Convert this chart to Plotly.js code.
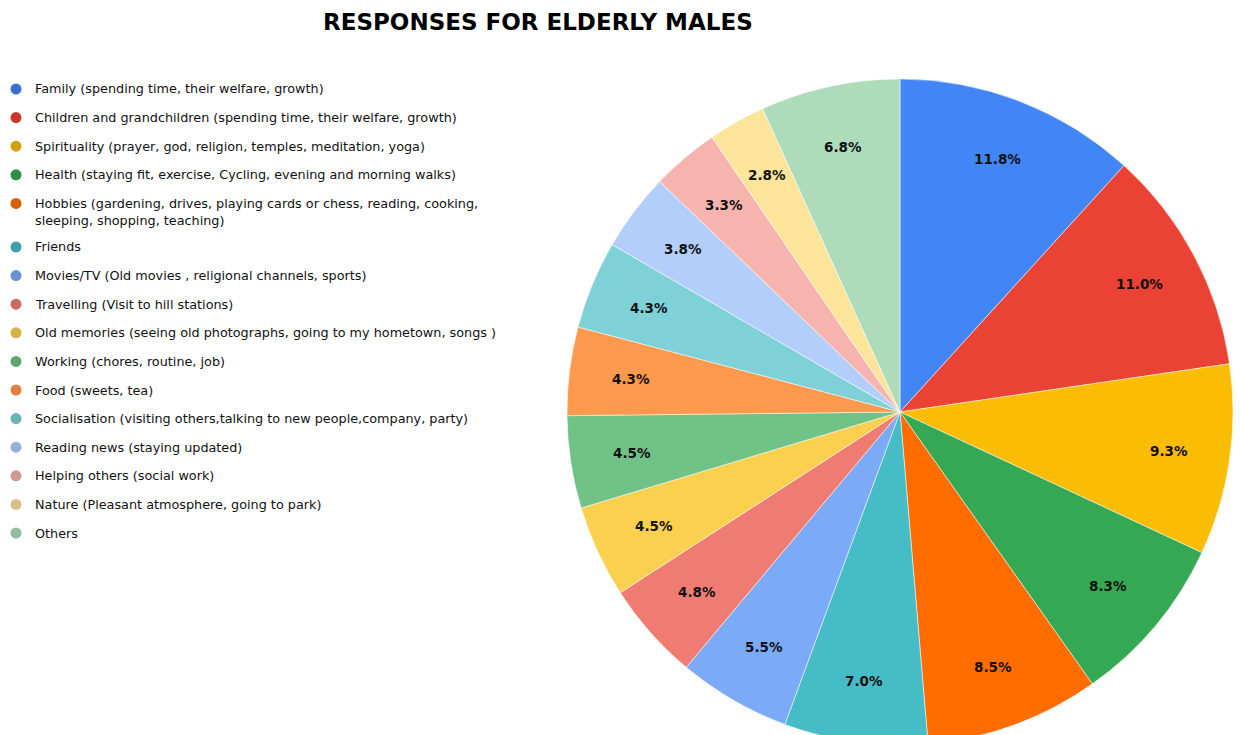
<!DOCTYPE html>
<html><head><meta charset="utf-8">
<script src="https://cdn.plot.ly/plotly-3.0.1.min.js"></script>
<style>html,body{margin:0;padding:0;overflow:hidden;background:#fff;width:1240px;height:735px}</style>
</head><body><div id="chart"></div>
<script>
const categories = [
  "Family (spending time, their welfare, growth)",
  "Children and grandchildren (spending time, their welfare, growth)",
  "Spirituality (prayer, god, religion, temples, meditation, yoga)",
  "Health (staying fit, exercise, Cycling, evening and morning walks)",
  "Hobbies (gardening, drives, playing cards or chess, reading, cooking,<br>sleeping, shopping, teaching)",
  "Friends",
  "Movies/TV (Old movies , religional channels, sports)",
  "Travelling (Visit to hill stations)",
  "Old memories (seeing old photographs, going to my hometown, songs )",
  "Working (chores, routine, job)",
  "Food (sweets, tea)",
  "Socialisation (visiting others,talking to new people,company, party)",
  "Reading news (staying updated)",
  "Helping others (social work)",
  "Nature (Pleasant atmosphere, going to park)",
  "Others"
];
const percentages = [11.8, 11.0, 9.3, 8.3, 8.5, 7.0, 5.5, 4.8, 4.5, 4.5, 4.3, 4.3, 3.8, 3.3, 2.8, 6.8];
const sliceColors = ["#4285F4","#EA4335","#FBBC04","#34A853","#FF6D01","#46BDC6","#7BAAF7","#F07B72",
                     "#FCD04F","#71C287","#FF994D","#7ED1D7","#B3CEFB","#F7B4AE","#FDE49B","#AEDCBA"];

const W = 1240, H = 760;
function darken(hex, f){
  const n = parseInt(hex.slice(1),16);
  const r=Math.round(((n>>16)&255)*f), g=Math.round(((n>>8)&255)*f), b=Math.round((n&255)*f);
  return `rgb(${r},${g},${b})`;
}
// pie geometry in pixels
const cx = 900, cy = 412, R = 333;
const trace = {
  type: 'pie',
  labels: categories,
  values: percentages,
  sort: false,
  direction: 'clockwise',
  rotation: 0,
  marker: {colors: sliceColors, line: {color: 'rgba(255,255,255,0.5)', width: 1}},
  textinfo: 'none',
  hoverinfo: 'label+value',
  showlegend: false,
  domain: {x: [(cx-R)/W, (cx+R)/W], y: [1-(cy+R)/H, 1-(cy-R)/H]}
};

const annotations = [{
  text: '<b>RESPONSES FOR ELDERLY MALES</b>', xref: 'paper', yref: 'paper',
  x: 538/W, y: 1-22/H, xanchor: 'center', yanchor: 'middle', showarrow: false,
  font: {family: 'DejaVu Sans, sans-serif', size: 23, color: '#000'}
}];
// slice percentage labels placed at a fixed fraction of the radius (as in the source chart)
const total = percentages.reduce((a, b) => a + b, 0);
let cum = 0;
percentages.forEach((v) => {
  const th = (cum + v/2) / total * 2 * Math.PI;
  cum += v;
  const rl = 0.815 * R;
  const px = cx + rl * Math.sin(th), py = cy - rl * Math.cos(th);
  annotations.push({
    text: '<b>' + v.toFixed(1) + '%</b>', xref: 'paper', yref: 'paper',
    x: px/W, y: 1-py/H, xanchor: 'center', yanchor: 'middle', showarrow: false,
    font: {family: 'DejaVu Sans, sans-serif', size: 13.5, color: '#111'}
  });
});
const shapes = [];
categories.forEach((c, i) => {
  const yDot = 89 + i*28.6 + (i > 4 ? 15 : 0);
  const twoLine = c.includes('<br>');
  annotations.push({
    text: c, xref: 'paper', yref: 'paper', x: 33/W,
    y: 1-(twoLine ? yDot+8.5 : yDot)/H, xanchor: 'left', yanchor: 'middle', align: 'left',
    showarrow: false, font: {family: 'DejaVu Sans, sans-serif', size: 12.8, color: '#111'}
  });
  shapes.push({
    type: 'circle', xref: 'paper', yref: 'paper', xsizemode: 'pixel', ysizemode: 'pixel',
    xanchor: 16/W, yanchor: 1-yDot/H, x0: -5.5, x1: 5.5, y0: -5.5, y1: 5.5,
    fillcolor: darken(sliceColors[i], 0.85), line: {width: 0}
  });
});

Plotly.newPlot('chart', [trace], {
  width: W, height: H,
  margin: {l: 0, r: 0, t: 0, b: 0},
  paper_bgcolor: '#fff',
  annotations, shapes, showlegend: false
}, {displayModeBar: false, staticPlot: true});
</script></body></html>
